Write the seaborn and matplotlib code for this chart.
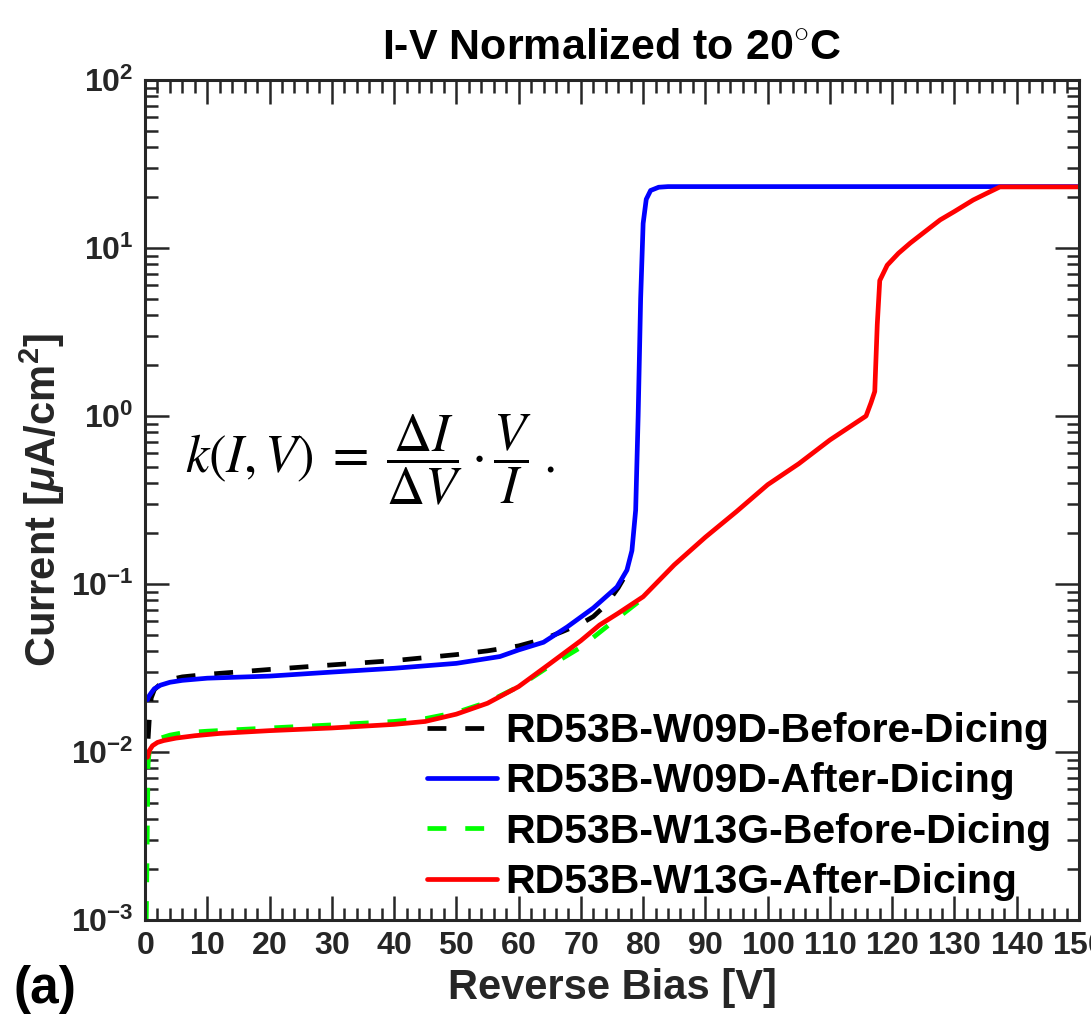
import numpy as np
import pandas as pd
import matplotlib
matplotlib.use("Agg")
import matplotlib.pyplot as plt
from matplotlib import font_manager as fm
from matplotlib.ticker import MultipleLocator, LogLocator, NullFormatter, FuncFormatter
import seaborn as sns

# ---------------- data ----------------
labels = ["RD53B-W09D-Before-Dicing", "RD53B-W09D-After-Dicing",
          "RD53B-W13G-Before-Dicing", "RD53B-W13G-After-Dicing"]

w09d_before_v = [0.5, 0.7, 1.0, 1.5, 2.5, 4, 6, 10, 20, 30, 40, 50, 55, 60, 64, 67, 70, 72, 74, 76, 77]
w09d_before_i = [0.012, 0.016, 0.021, 0.0235, 0.0255, 0.027, 0.028, 0.029, 0.031, 0.033, 0.035,
                 0.038, 0.040, 0.0428, 0.047, 0.052, 0.058, 0.064, 0.075, 0.095, 0.11]

w09d_after_v = [0.4, 0.6, 1.0, 1.5, 2.5, 4, 6, 10, 20, 30, 40, 50, 57, 60, 64, 67.8, 72, 75.8,
                77.4, 78.2, 78.8, 79.2, 79.6, 80.0, 80.5, 81.2, 82.5, 84, 100, 120, 150]
w09d_after_i = [0.0205, 0.0214, 0.0225, 0.0238, 0.025, 0.026, 0.0267, 0.0275, 0.0283, 0.0299,
                0.0315, 0.0337, 0.037, 0.0405, 0.045, 0.0555, 0.072, 0.096,
                0.121, 0.158, 0.275, 1.0, 5.0, 14.0, 19.5, 22.0, 23.0, 23.2, 23.2, 23.2, 23.2]

w13g_before_v = [0.2, 0.3, 0.4, 0.5, 0.7, 1, 1.5, 2.5, 4, 6, 10, 20, 30, 40, 45, 50, 55, 60,
                 65, 70, 75, 78, 80.5]
w13g_before_i = [0.001, 0.002, 0.0045, 0.0085, 0.0103, 0.0111, 0.0117, 0.0121, 0.0126, 0.013,
                 0.0133, 0.0139, 0.0145, 0.0152, 0.0158, 0.0172, 0.0198, 0.0245,
                 0.0325, 0.042, 0.059, 0.072, 0.085]

w13g_after_v = [0.4, 0.7, 1.2, 2, 3, 5, 8, 12, 20, 30, 40, 45, 50, 55, 60, 65, 70, 73, 76, 80,
                85, 90, 95, 100, 105, 110, 115.8, 116.6, 117.2, 117.6, 118.0, 119.2, 121, 122.9,
                125, 127.7, 130, 133, 135, 137.3, 140, 150]
w13g_after_i = [0.0093, 0.0102, 0.0109, 0.0114, 0.0117, 0.0121, 0.0125, 0.0129, 0.0134, 0.0139,
                0.0146, 0.0152, 0.0168, 0.0195, 0.0245, 0.0335, 0.046, 0.057, 0.067, 0.084,
                0.13, 0.19, 0.27, 0.39, 0.52, 0.72, 1.0, 1.2, 1.4, 3.5, 6.4, 7.9, 9.3, 10.7,
                12.3, 14.7, 16.5, 19.3, 21.0, 23.1, 23.1, 23.1]

colors = ["black", "#0000FF", "#00FF00", "#FF0000"]
dashed = [True, False, True, False]

# ---------------- style ----------------
sns.set_theme(style="white")
names = {f.name for f in fm.fontManager.ttflist}
base = "Liberation Sans Narrow" if "Liberation Sans Narrow" in names else "Liberation Sans"
plt.rcParams["font.family"] = [base, "Liberation Sans", "DejaVu Sans"]
plt.rcParams["mathtext.fontset"] = "custom"
plt.rcParams["mathtext.rm"] = f"{base}:bold"
plt.rcParams["mathtext.bf"] = f"{base}:bold"
plt.rcParams["mathtext.it"] = f"{base}:italic:bold"

GREY = "#262626"

fig = plt.figure(figsize=(10.91, 10.19), dpi=100)
ax = fig.add_axes([145 / 1091, 1 - 920 / 1019, 934 / 1091, 840 / 1019])

series = [(w09d_before_v, w09d_before_i), (w09d_after_v, w09d_after_i),
          (w13g_before_v, w13g_before_i), (w13g_after_v, w13g_after_i)]
for (v, i), lab, c, d in zip(series, labels, colors, dashed):
    df = pd.DataFrame({"V": v, "I": i})
    kw = dict(linestyle=(0, (4.0, 4.0))) if d else dict(linestyle="-")
    sns.lineplot(data=df, x="V", y="I", ax=ax, color=c, lw=3.4, label=lab,
                 estimator=None, sort=False, **kw)

ax.set_yscale("log")
ax.set_xlim(0, 150)
ax.set_ylim(1e-3, 1e2)

ax.xaxis.set_major_locator(MultipleLocator(10))
ax.xaxis.set_minor_locator(MultipleLocator(2))
ax.xaxis.set_major_formatter(FuncFormatter(lambda x, p: r"$\mathbf{%d}$" % round(x)))
ax.yaxis.set_major_locator(LogLocator(base=10, numticks=10))
ax.yaxis.set_minor_locator(LogLocator(base=10, subs=np.arange(2, 10), numticks=20))
ax.yaxis.set_minor_formatter(NullFormatter())
ax.yaxis.set_major_formatter(FuncFormatter(lambda y, p: r"$\mathbf{10^{%d}}$" % round(np.log10(y))))

ax.tick_params(which="both", direction="in", top=True, right=True, bottom=True, left=True,
               color=GREY, labelcolor=GREY)
ax.tick_params(which="major", length=17, width=1.8, labelsize=23, pad=8)
ax.tick_params(which="minor", length=9, width=1.8)

for s in ax.spines.values():
    s.set_visible(True)
    s.set_color(GREY)
    s.set_linewidth(2.2)

ax.set_title(r"I-V Normalized to 20$^{\circ}$C", fontsize=31, fontweight="bold",
             color="black", pad=15)
ax.set_xlabel("Reverse Bias [V]", fontsize=30, fontweight="bold", color=GREY, labelpad=5)
ax.set_ylabel(r"Current [$\mu$A/cm$^2$]", fontsize=30, fontweight="bold", color=GREY, labelpad=3)

leg = ax.legend(loc="upper left", bbox_to_anchor=(427 / 1091, 1 - 712 / 1019),
                bbox_transform=fig.transFigure, frameon=False, fontsize=29.5,
                handlelength=1.7, handletextpad=0.2, labelspacing=0.3,
                borderpad=0, borderaxespad=0)
for t in leg.get_texts():
    t.set_fontweight("bold")
    t.set_color("black")

fig.text(185 / 1091, 1 - 460 / 1019,
         r"$k(I,V)\;=\;\dfrac{\Delta I}{\Delta V}\cdot\dfrac{V}{I}\;.$",
         math_fontfamily="stix", fontsize=38, ha="left", va="center", color="black")

fig.text(14 / 1091, 1 - 1014 / 1019, "(a)", fontsize=37, fontweight="bold", color="black",
         ha="left", va="bottom")

fig.savefig("out.png", dpi=100, facecolor="white")
